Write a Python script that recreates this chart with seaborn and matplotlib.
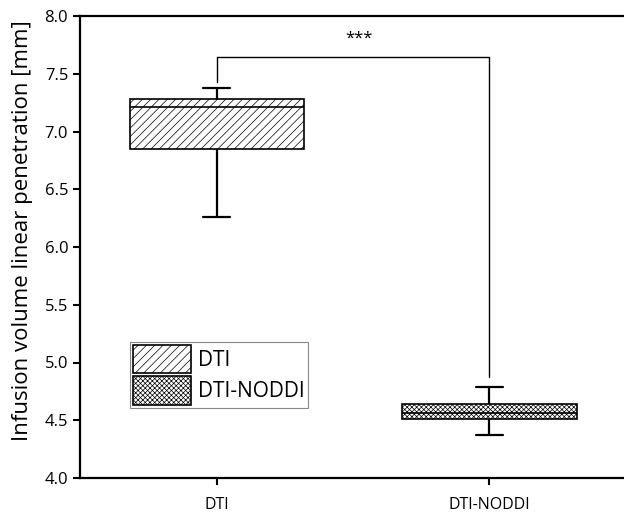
import matplotlib

matplotlib.use("Agg")
import matplotlib.pyplot as plt
import pandas as pd
import seaborn as sns
from matplotlib.patches import Patch

sns.set_style("ticks", {"axes.edgecolor": "black", "text.color": "black",
                        "xtick.color": "black", "ytick.color": "black",
                        "axes.labelcolor": "black"})
plt.rcParams["font.family"] = ["Open Sans", "DejaVu Sans"]
plt.rcParams["hatch.linewidth"] = 0.5

# Five-number summaries (min, Q1, median, Q3, max)
methods = ["DTI", "DTI-NODDI"]
dti_values = [6.26, 6.85, 7.21, 7.28, 7.38]
noddi_values = [4.37, 4.51, 4.56, 4.64, 4.79]
hatches = ["////", "xxxxxxx"]
y_ticks = [4.0, 4.5, 5.0, 5.5, 6.0, 6.5, 7.0, 7.5, 8.0]
significance = "***"
bracket_top = 7.645
bracket_gap = 0.05

df = pd.DataFrame(
    {
        "method": [methods[0]] * len(dti_values) + [methods[1]] * len(noddi_values),
        "value": dti_values + noddi_values,
    }
)

fig = plt.figure(figsize=(6.24, 5.2), dpi=100)
ax = fig.add_axes([80 / 624, 42 / 520, 573 / 624, 462 / 520])

sns.boxplot(
    data=df,
    x="method",
    y="value",
    order=methods,
    whis=(0, 100),
    width=0.64,
    color="white",
    linecolor="black",
    linewidth=1.2,
    capwidths=0.1,
    whiskerprops={"linewidth": 1.6},
    capprops={"linewidth": 1.6},
    medianprops={"linewidth": 1.2},
    ax=ax,
)

for patch, hatch in zip(ax.patches, hatches):
    patch.set_hatch(hatch)
    patch.set_edgecolor("black")

# significance bracket
left_end = max(dti_values) + bracket_gap
right_end = max(noddi_values) + 0.085
ax.plot([0, 0, 1, 1], [left_end, bracket_top, bracket_top, right_end], color="black", lw=1.0)
ax.text(0.52, bracket_top + 0.09, significance, ha="center", va="bottom", fontsize=12)

ax.set_xlim(-0.502, 1.6)
ax.set_ylim(4.0, 8.0)
ax.set_yticks(y_ticks)
ax.set_yticklabels([f"{t:.1f}" for t in y_ticks])
ax.set_xlabel("")
ax.set_ylabel("Infusion volume linear penetration [mm]", fontsize=16)
ax.yaxis.set_label_coords(-0.082, 0.536)
ax.tick_params(axis="y", labelsize=12, length=5, width=1.5, direction="out")
ax.tick_params(axis="x", labelsize=11.5, length=5, width=1.5, direction="out", pad=9)
for side in ["left", "top", "bottom"]:
    ax.spines[side].set_linewidth(1.6)
ax.spines["right"].set_visible(False)

handles = [
    Patch(facecolor="white", edgecolor="black", hatch=h, linewidth=1.2, label=m)
    for m, h in zip(methods, hatches)
]
leg = ax.legend(
    handles=handles,
    loc="upper left",
    bbox_to_anchor=((130 - 80) / 573, (478 - 342) / 462),
    fontsize=15,
    handlelength=2.8,
    handleheight=1.7,
    handletextpad=0.3,
    borderpad=0.15,
    labelspacing=0.15,
    borderaxespad=0,
    fancybox=False,
    framealpha=1,
    edgecolor="#888888",
)
leg.get_frame().set_linewidth(0.8)

fig.savefig("out.png", dpi=100)
